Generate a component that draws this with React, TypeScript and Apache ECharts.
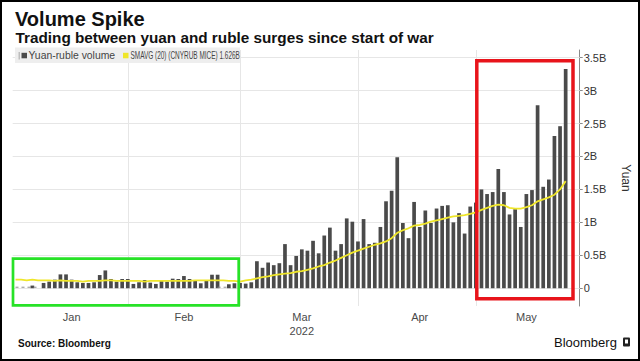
import React, { useEffect, useRef } from 'react';
import * as echarts from 'echarts';

// ---- data ----
const monthNames = ['Jan', 'Feb', 'Mar', 'Apr', 'May'];
const monthLengths = [20, 20, 21, 21, 19];
const labelDayInMonth = [10, 10, 11, 11, 9];
const yearLabel = '2022';
const yTicks = [0, 0.5, 1, 1.5, 2, 2.5, 3, 3.5];
const lastSmavgLabel = '1.626B';

// daily yuan-ruble volume, billions of yuan (null = no trading)
const volume = [
  null, null, null, 0.04, null, 0.08, 0.1, 0.13, 0.21, 0.21,
  0.13, 0.09, 0.08, 0.08, 0.09, 0.2, 0.27, 0.14, 0.1, 0.14,
  0.14, 0.065, 0.09, 0.125, 0.085, 0.065, 0.115, 0.1, 0.145, 0.14,
  0.185, 0.14, 0.125, 0.075, 0.11, 0.205, 0.205, null, 0.06, 0.075,
  0.08, 0.07, 0.09, 0.41, 0.31, 0.39, 0.35, 0.38, 0.67, 0.35,
  0.49, 0.59, 0.57, 0.72, 0.53, 0.8, 0.92, 0.57, 0.67, 1.06,
  1.01, 0.71, 1.05, 0.67, 0.69, 0.93, 1.32, 1.48, 1.99, 0.99,
  0.76, 1.31, 0.93, 1.18, 0.99, 1.21, 1.25, 1.26, 1.0, 1.14,
  0.83, 1.24, 1.3, 1.5, 1.43, 1.46, 1.81, 1.46, 1.12, 1.2,
  0.93, 1.43, 1.49, 2.78, 1.54, 1.65, 2.31, 2.46, 3.33, null,
  null,
];

// 20-day simple moving average
const smavg = [
  0.13, 0.13, 0.12, 0.13, 0.12, 0.12, 0.12, 0.11, 0.12, 0.11,
  0.11, 0.11, 0.1, 0.11, 0.11, 0.11, 0.12, 0.12, 0.11, 0.11,
  0.11, 0.11, 0.11, 0.1, 0.11, 0.11, 0.11, 0.11, 0.11, 0.11,
  0.11, 0.11, 0.12, 0.12, 0.12, 0.12, 0.12, 0.12, 0.11, 0.11,
  0.1, 0.12, 0.13, 0.15, 0.17, 0.18, 0.2, 0.21, 0.22, 0.23,
  0.25, 0.26, 0.28, 0.3, 0.33, 0.35, 0.39, 0.42, 0.46, 0.5,
  0.54, 0.57, 0.6, 0.63, 0.66, 0.68, 0.71, 0.76, 0.84, 0.88,
  0.91, 0.95, 0.96, 0.98, 1.01, 1.03, 1.05, 1.07, 1.09, 1.1,
  1.11, 1.13, 1.15, 1.19, 1.22, 1.25, 1.27, 1.26, 1.22, 1.21,
  1.21, 1.23, 1.26, 1.32, 1.35, 1.38, 1.42, 1.5, 1.626, null,
  null,
];

// days shown as a dashed "no data" trace
const noDataDays = [0, 1, 2, 3, 4, 36, 37, 38];
const noDataLevel = 0.015;

const FONT = '"Liberation Sans", Arial, sans-serif';

export default function App() {
  const ref = useRef<HTMLDivElement>(null);

  useEffect(() => {
    if (!ref.current) return;
    const chart = echarts.init(ref.current, null, { renderer: 'svg' });

    const categories: string[] = [];
    const labelByIndex: Record<number, string> = {};
    const monthStarts: string[] = [];
    monthNames.forEach((m, mi) => {
      for (let d = 0; d < monthLengths[mi]; d++) {
        const idx = categories.length;
        const name = `${m} d${d + 1}`;
        if (d === 0 && mi > 0) monthStarts.push(name);
        if (d === labelDayInMonth[mi]) {
          labelByIndex[idx] = m === 'Mar' ? `${m}\n${yearLabel}` : m;
        }
        categories.push(name);
      }
    });
    const noData = categories.map((_, i) => (noDataDays.includes(i) ? noDataLevel : null));

    const option: any = {
      animation: false,
      grid: { left: 12.7, right: 60.3, top: 50, bottom: 55 },
      xAxis: {
        type: 'category',
        data: categories,
        boundaryGap: true,
        axisLine: { show: false },
        axisTick: { show: false },
        splitLine: { show: false },
        axisLabel: {
          interval: (i: number) => labelByIndex[i] !== undefined,
          formatter: (_v: string, i: number) => labelByIndex[i] ?? '',
          color: '#4a4a4a',
          fontSize: 11,
          lineHeight: 14,
          margin: 3.5,
          fontFamily: FONT,
        },
      },
      yAxis: {
        type: 'value',
        position: 'right',
        min: -0.27,
        max: 3.617,
        splitNumber: 8,
        name: 'Yuan',
        nameLocation: 'middle',
        nameGap: 40,
        nameRotate: -90,
        nameTextStyle: { fontSize: 12, color: '#333', fontFamily: FONT },
        axisLine: { show: true, lineStyle: { color: '#8a8a8a', width: 1 } },
        axisTick: { show: true, length: 3, customValues: yTicks, lineStyle: { color: '#8a8a8a' } },
        axisLabel: {
          customValues: yTicks,
          margin: 4,
          fontSize: 11,
          color: '#333',
          fontFamily: FONT,
          formatter: (v: number) => {
            const r = Math.round(v * 2) / 2;
            if (Math.abs(v - r) > 1e-6 || v < 0) return '';
            return r === 0 ? '0' : `${r}B`;
          },
        },
        splitLine: { show: false },
      },
      series: [
        {
          name: 'Yuan-ruble volume',
          type: 'bar',
          data: volume,
          barWidth: 3.7,
          z: 3,
          itemStyle: { color: '#4a4a4a' },
          markLine: {
            silent: true,
            z: 1,
            symbol: ['none', 'none'],
            label: { show: false },
            lineStyle: { color: '#e6e6e6', width: 1, type: 'solid' },
            data: [
              ...yTicks.map((v) => ({ yAxis: v })),
              ...monthStarts.map((c) => ({ xAxis: c })),
            ],
          },
        },
        {
          name: 'no data',
          type: 'line',
          data: noData,
          symbol: 'none',
          z: 3,
          connectNulls: false,
          lineStyle: { color: '#8c8c8c', width: 1, type: [3, 3] },
        },
        {
          name: 'SMAVG (20) (CNYRUB MICE)',
          type: 'line',
          data: smavg,
          symbol: 'none',
          z: 4,
          lineStyle: { color: '#efe62a', width: 1.8 },
        },
      ],
      graphic: [
        { type: 'rect', z: 100, shape: { x: 1, y: 1, width: 638, height: 359 }, style: { fill: 'none', stroke: '#000', lineWidth: 2 } },
        { type: 'text', z: 100, x: 15, y: 18.5, style: { text: 'Volume Spike', fontSize: 20, fontWeight: 'bold', fontFamily: FONT, fill: '#111', verticalAlign: 'middle' } },
        { type: 'text', z: 100, x: 15.5, y: 37.5, style: { text: 'Trading between yuan and ruble surges since start of war', fontSize: 15.3, fontWeight: 'bold', fontFamily: FONT, fill: '#111', verticalAlign: 'middle' } },
        // legend
        { type: 'rect', z: 90, shape: { x: 15, y: 47.5, width: 225, height: 15.5 }, style: { fill: '#eeeeee' } },
        { type: 'rect', z: 100, shape: { x: 18.5, y: 52, width: 1.5, height: 7.5 }, style: { fill: '#bdbdbd' } },
        { type: 'rect', z: 100, shape: { x: 21.5, y: 52.8, width: 5.5, height: 5.5 }, style: { fill: '#4a4a4a' } },
        { type: 'text', z: 100, x: 28.5, y: 55.8, style: { text: 'Yuan-ruble volume', fontSize: 10.4, fontFamily: FONT, fill: '#444', verticalAlign: 'middle' } },
        { type: 'rect', z: 100, shape: { x: 123, y: 52.8, width: 5.5, height: 5.5 }, style: { fill: '#efe62a' } },
        { type: 'text', z: 100, x: 130.5, y: 55.8, scaleX: 0.62, style: { text: `SMAVG (20) (CNYRUB MICE) ${lastSmavgLabel}`, fontSize: 10.4, fontFamily: FONT, fill: '#444', verticalAlign: 'middle' } },
        // annotation boxes
        { type: 'rect', z: 110, shape: { x: 13, y: 258.7, width: 225.7, height: 46.6 }, style: { fill: 'none', stroke: '#27e227', lineWidth: 2.7 } },
        { type: 'rect', z: 110, shape: { x: 476.8, y: 60.8, width: 96.2, height: 238 }, style: { fill: 'none', stroke: '#e8141b', lineWidth: 3.5 } },
        // footer
        { type: 'text', z: 100, x: 18, y: 343.7, style: { text: 'Source: Bloomberg', fontSize: 10, fontWeight: 'bold', fontFamily: FONT, fill: '#111', verticalAlign: 'middle' } },
        { type: 'text', z: 100, x: 554, y: 342.5, style: { text: 'Bloomberg', fontSize: 13, fontFamily: FONT, fill: '#111', verticalAlign: 'middle' } },
        { type: 'rect', z: 100, shape: { x: 623, y: 337.5, width: 7, height: 9, r: 1 }, style: { fill: '#222' } },
        { type: 'rect', z: 101, shape: { x: 625, y: 339.5, width: 3, height: 4 }, style: { fill: '#fff' } },
      ],
    };

    chart.setOption(option);
    return () => chart.dispose();
  }, []);

  return (
    <div style={{ position: 'fixed', left: 0, top: 0, width: 640, height: 361, background: '#fff' }}>
      <div ref={ref} style={{ width: 640, height: 361 }} />
    </div>
  );
}
